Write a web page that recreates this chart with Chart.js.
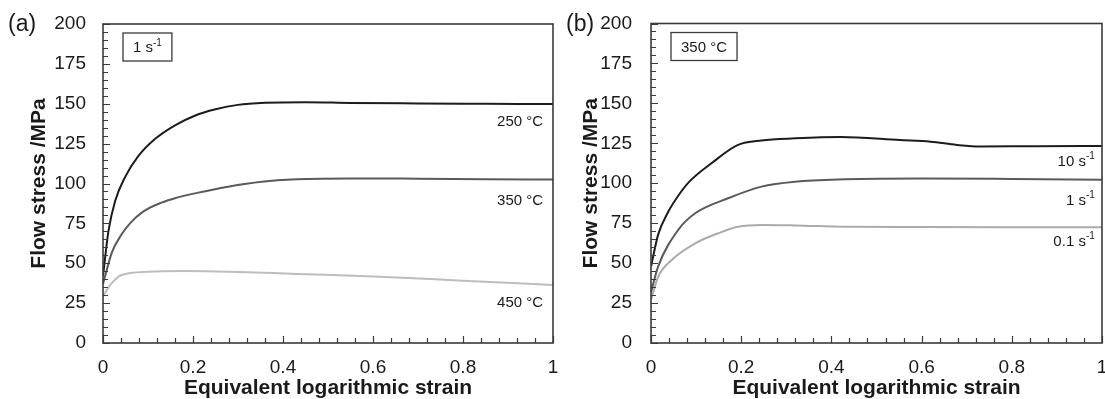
<!DOCTYPE html>
<html>
<head>
<meta charset="utf-8">
<script src="https://cdn.jsdelivr.net/npm/chart.js@4.4.1/dist/chart.umd.min.js"></script>
<style>
  body { margin: 0; background: #fff; width: 1105px; height: 399px; position: relative; overflow: hidden; font-family: "Liberation Sans", Arial, sans-serif; }
  .panel { position: absolute; top: 0; height: 399px; }
  #pa { left: 0; width: 560px; }
  #pb { left: 560px; width: 545px; }
  .tag { position: absolute; top: 10px; font-size: 23px; line-height: 26px; color: #1a1a1a; }
</style>
</head>
<body>
<div class="panel" id="pa"><canvas id="chartA" width="560" height="399"></canvas></div>
<div class="panel" id="pb"><canvas id="chartB" width="545" height="399"></canvas></div>
<div class="tag" style="left:8px">(a)</div>
<div class="tag" style="left:566px">(b)</div>
<script>
// axis ticks
const yTicks = [0, 25, 50, 75, 100, 125, 150, 175, 200]
const xTicks = [0, 0.2, 0.4, 0.6, 0.8, 1]

// (a) strain rate 1 s-1, three temperatures
const strainA250 = [0, 0.012, 0.027, 0.049, 0.078, 0.116, 0.16, 0.204, 0.25, 0.3, 0.36, 0.45, 0.55, 0.7, 0.85, 1]
const stressA250 = [42, 70, 89, 104, 117, 128, 136.5, 142.5, 146.5, 149.3, 150.6, 151, 150.5, 150.2, 150, 149.8]
const strainA350 = [0, 0.02, 0.04, 0.06, 0.09, 0.13, 0.16, 0.204, 0.278, 0.353, 0.43, 0.55, 0.7, 0.85, 1]
const stressA350 = [37, 57, 67.5, 75, 82.5, 88, 90.8, 93.8, 98, 101.1, 102.6, 103.2, 103, 102.7, 102.5]
const strainA450 = [0, 0.008, 0.019, 0.041, 0.1, 0.18, 0.28, 0.43, 0.616, 0.8, 1]
const stressA450 = [29, 33, 37.4, 42.6, 44.7, 45.1, 44.7, 43.3, 41.6, 39, 36.4]

// (b) 350 °C, three strain rates
const strainB10 = [0, 0.016, 0.038, 0.06, 0.085, 0.134, 0.193, 0.245, 0.319, 0.42, 0.552, 0.62, 0.678, 0.73, 0.85, 1]
const stressB10 = [47.8, 68, 82, 92, 101, 112.5, 124, 126.8, 128.1, 129, 127, 126, 124, 123, 123.2, 123.3]
const strainB1 = [0, 0.016, 0.06, 0.098, 0.171, 0.245, 0.319, 0.43, 0.6, 0.8, 1]
const stressB1 = [32, 48, 70.7, 81.2, 90.6, 97.9, 101, 102.5, 103, 102.7, 102.2]
const strainB01 = [0, 0.016, 0.046, 0.098, 0.149, 0.193, 0.245, 0.319, 0.43, 0.6, 0.8, 1]
const stressB01 = [27, 41.5, 52, 62.4, 68.7, 72.8, 73.9, 73.6, 72.8, 72.6, 72.5, 72.4]

const FONT = '"Liberation Sans", Arial, sans-serif'

const toPts = (xs, ys) => xs.map((v, i) => ({x: v, y: ys[i]}))

const line = (xs, ys, color) => ({
    data: toPts(xs, ys),
    borderColor: color,
    borderWidth: 2,
    pointRadius: 0,
    showLine: true,
    cubicInterpolationMode: 'monotone'
})

// text with optional "-1" superscript, right aligned at x
function supText(ctx, x, y, main, sup, size) {
    ctx.font = size + 'px ' + FONT
    const wMain = ctx.measureText(main).width
    ctx.font = Math.round(size * 0.65) + 'px ' + FONT
    const wSup = sup ? ctx.measureText(sup).width : 0
    const x0 = x - wMain - wSup
    ctx.font = size + 'px ' + FONT
    ctx.textAlign = 'left'
    ctx.textBaseline = 'middle'
    ctx.fillText(main, x0, y)
    if (sup) {
        ctx.font = Math.round(size * 0.65) + 'px ' + FONT
        ctx.fillText(sup, x0 + wMain, y - size * 0.35)
    }
    return wMain + wSup
}

const frameTicks = {
    id: 'frameTicks',
    afterDraw(chart, args, opts) {
        const {ctx, chartArea: a, scales: {x, y}} = chart
        ctx.save()
        ctx.strokeStyle = '#3a3a3a'
        ctx.lineWidth = 1.2
        ctx.beginPath()
        for (let v = 0; v <= 200; v += 5) {
            const py = Math.round(y.getPixelForValue(v)) + 0.5
            const len = v % 25 === 0 ? 7 : 5
            ctx.moveTo(a.left, py); ctx.lineTo(a.left + len, py)
        }
        for (let i = 0; i <= 25; i++) {
            const px = Math.round(x.getPixelForValue(i * 0.04)) + 0.5
            const len = i % 5 === 0 ? 7 : 5
            ctx.moveTo(px, a.bottom); ctx.lineTo(px, a.bottom - len)
        }
        ctx.stroke()
        ctx.lineWidth = 1.6
        ctx.strokeRect(a.left, a.top, a.width, a.height)

        ctx.fillStyle = '#1a1a1a'
        // boxed condition note
        const n = opts.note
        ctx.font = '15px ' + FONT
        let w = ctx.measureText(n.main).width
        ctx.font = '10px ' + FONT
        if (n.sup) w += ctx.measureText(n.sup).width
        const bx = a.left + 20, by = a.top + 9
        ctx.lineWidth = 1.3
        ctx.strokeRect(bx, by, w + 20, 28)
        supText(ctx, bx + 10 + w, by + 15, n.main, n.sup, 15)

        // curve labels
        opts.labels.forEach(l => {
            supText(ctx, x.getPixelForValue(l.x), y.getPixelForValue(l.y), l.main, l.sup, 15)
        })
        ctx.restore()
    }
}

function makeChart(id, datasets, dims, note, labels) {
    return new Chart(document.getElementById(id), {
        type: 'scatter',
        data: {datasets: datasets},
        options: {
            responsive: false,
            animation: false,
            layout: {padding: {top: dims.padTop, right: dims.padRight, left: 0, bottom: 0}},
            plugins: {
                legend: {display: false},
                tooltip: {enabled: false},
                frameTicks: {note: note, labels: labels}
            },
            scales: {
                x: {
                    type: 'linear', min: 0, max: 1,
                    grid: {display: false, drawTicks: false},
                    border: {display: false},
                    afterBuildTicks: s => { s.ticks = xTicks.map(v => ({value: v})) },
                    afterFit: s => { s.height = 56; s.paddingLeft = 0; s.paddingRight = 0 },
                    ticks: {color: '#1a1a1a', padding: 13, maxRotation: 0, callback: v => String(v),
                        font: {size: 19, family: FONT}},
                    title: {display: true, text: 'Equivalent logarithmic strain', color: '#1a1a1a', padding: {top: 0, bottom: -2},
                        font: {size: 21, weight: 'bold', family: FONT}}
                },
                y: {
                    type: 'linear', min: 0, max: 200,
                    grid: {display: false, drawTicks: false},
                    border: {display: false},
                    afterBuildTicks: s => { s.ticks = yTicks.map(v => ({value: v})) },
                    afterFit: s => { s.width = dims.yWidth; s.paddingTop = 0; s.paddingBottom = 0 },
                    ticks: {color: '#1a1a1a', padding: dims.tickPad, font: {size: 19, family: FONT}},
                    title: {display: true, text: 'Flow stress /MPa', color: '#1a1a1a', padding: {top: dims.titlePad, bottom: 0},
                        font: {size: 21, weight: 'bold', family: FONT}}
                }
            }
        },
        plugins: [frameTicks]
    })
}

makeChart('chartA', [
    line(strainA250, stressA250, '#1c1c1c'),
    line(strainA350, stressA350, '#5a5a5a'),
    line(strainA450, stressA450, '#bdbdbd')
], {yWidth: 103, padTop: 24, padRight: 7, tickPad: 17, titlePad: 27}, {main: '1 s', sup: '-1'}, [
    {x: 0.978, y: 138.6, main: '250 °C'},
    {x: 0.978, y: 89.2, main: '350 °C'},
    {x: 0.978, y: 25.3, main: '450 °C'}
])

makeChart('chartB', [
    line(strainB10, stressB10, '#1c1c1c'),
    line(strainB1, stressB1, '#5a5a5a'),
    line(strainB01, stressB01, '#ababab')
], {yWidth: 91, padTop: 23.5, padRight: 3, tickPad: 19, titlePad: 19}, {main: '350 °C'}, [
    {x: 0.984, y: 113.5, main: '10 s', sup: '-1'},
    {x: 0.984, y: 88.9, main: '1 s', sup: '-1'},
    {x: 0.984, y: 63.4, main: '0.1 s', sup: '-1'}
])
</script>
</body>
</html>
